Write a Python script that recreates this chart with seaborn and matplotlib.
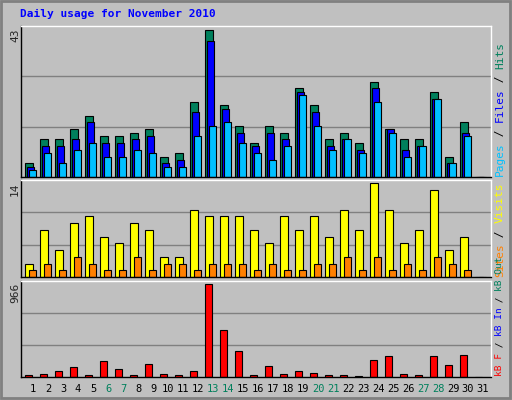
import numpy as np
import matplotlib
matplotlib.use("Agg")
import matplotlib.pyplot as plt
import seaborn as sns

days = list(range(1, 32))
hits = [4, 11, 11, 14, 18, 12, 12, 13, 14, 6, 7, 22, 43, 21, 15, 10, 15, 13, 26, 21, 11, 13, 10, 28, 14, 11, 11, 25, 6, 16, 0]
files = [3, 9, 9, 11, 16, 10, 10, 11, 12, 4, 5, 19, 40, 20, 13, 9, 13, 11, 25, 19, 9, 11, 8, 26, 14, 8, 9, 23, 4, 13, 0]
pages = [2, 7, 4, 8, 10, 6, 6, 8, 7, 3, 3, 12, 15, 16, 10, 7, 5, 9, 24, 15, 8, 11, 7, 22, 13, 6, 9, 23, 4, 12, 0]
visits = [2, 7, 4, 8, 9, 6, 5, 8, 7, 3, 3, 10, 9, 9, 9, 7, 5, 9, 7, 9, 6, 10, 7, 14, 10, 5, 7, 13, 4, 6, 0]
sites = [1, 2, 1, 3, 2, 1, 1, 3, 1, 2, 2, 1, 2, 2, 2, 1, 2, 1, 1, 2, 2, 3, 1, 3, 1, 2, 1, 3, 2, 1, 0]
kbytes = [25, 35, 67, 99, 25, 162, 88, 25, 130, 35, 25, 67, 966, 490, 268, 25, 109, 35, 67, 46, 25, 25, 14, 173, 215, 35, 25, 215, 120, 226, 0]
weekends = [6, 7, 13, 14, 20, 21, 27, 28]

sns.set_style("white")
plt.rcParams['font.family'] = ['DejaVu Sans Mono']

BG = "#c0c0c0"
fig = plt.figure(figsize=(5.12, 4), dpi=100, facecolor=BG)
x = np.array(days)
left, width = 21 / 512, 470 / 512

def make_ax(top_px, bot_px, ymax):
    ax = fig.add_axes([left, 1 - bot_px / 400, width, (bot_px - top_px) / 400])
    ax.set_facecolor(BG)
    ax.set_xlim(0.2, 31.53)
    ax.set_ylim(0, ymax * 1.03)
    for g in (ymax * 1.03 / 3, ymax * 1.03 * 2 / 3):
        ax.axhline(g, color="#808080", lw=1, zorder=0)
    ax.set_xticks([])
    ax.set_yticks([])
    for s in ax.spines.values():
        s.set_color("black")
        s.set_linewidth(1)
    ax.spines['top'].set_color("white")
    ax.spines['right'].set_color("white")
    return ax

kw = dict(edgecolor="black", linewidth=0.8, align="edge")

ax1 = make_ax(26, 177, 43)
ax1.bar(x - 0.51, hits, width=0.49, color="#00805c", **kw)
ax1.bar(x - 0.40, files, width=0.49, color="#0000ff", **kw)
ax1.bar(x - 0.27, pages, width=0.49, color="#00c0ff", **kw)

ax2 = make_ax(180, 277, 14)
ax2.bar(x - 0.53, visits, width=0.55, color="#ffff00", **kw)
ax2.bar(x - 0.27, sites, width=0.49, color="#ff8000", **kw)

ax3 = make_ax(281, 377, 966)
ax3.bar(x - 0.55, kbytes, width=0.5, color="#ff0000", **kw)

# y max labels
fig.text(15 / 512, 1 - 28 / 400, "43", rotation=90, ha="center", va="top", fontsize=8)
fig.text(15 / 512, 1 - 182 / 400, "14", rotation=90, ha="center", va="top", fontsize=8)
fig.text(15 / 512, 1 - 283 / 400, "966", rotation=90, ha="center", va="top", fontsize=8)

# right side legends (read bottom to top)
def side_label(parts, bottom_px, fs):
    y = bottom_px
    adv = 0.602 * fs * 100 / 72
    for txt, col in parts:
        fig.text(500 / 512, 1 - y / 400, txt, rotation=90, ha="center", va="bottom",
                 fontsize=fs, color=col)
        y -= len(txt) * adv

side_label([("Pages", "#00c0ff"), (" / ", "#000000"), ("Files", "#0000ff"),
            (" / ", "#000000"), ("Hits", "#00805c")], 176, 8)
side_label([("Sites", "#ff8000"), (" / ", "#000000"), ("Visits", "#ffff00")], 277, 8)
side_label([("kB F", "#ff0000"), (" / ", "#000000"), ("kB In", "#0000ff"),
            (" / ", "#000000"), ("kB Out", "#00805c")], 376, 6.8)

# day labels
for d in days:
    xf = left + (d - 0.2) / (31.53 - 0.2) * width
    fig.text(xf, 1 - 389 / 400, str(d), ha="center", va="center", fontsize=7.5,
             color="#00805c" if d in weekends else "black")

fig.text(20 / 512, 1 - 14 / 400, "Daily usage for November 2010", ha="left", va="center",
         fontsize=8, fontweight="bold", color="#0000ff")

# outer frame
fig.patches.append(plt.Rectangle((0.002, 0.004), 0.994, 0.993, transform=fig.transFigure,
                                 fill=False, edgecolor="#808080", lw=2))

fig.savefig("out.png", dpi=100, facecolor=BG)
